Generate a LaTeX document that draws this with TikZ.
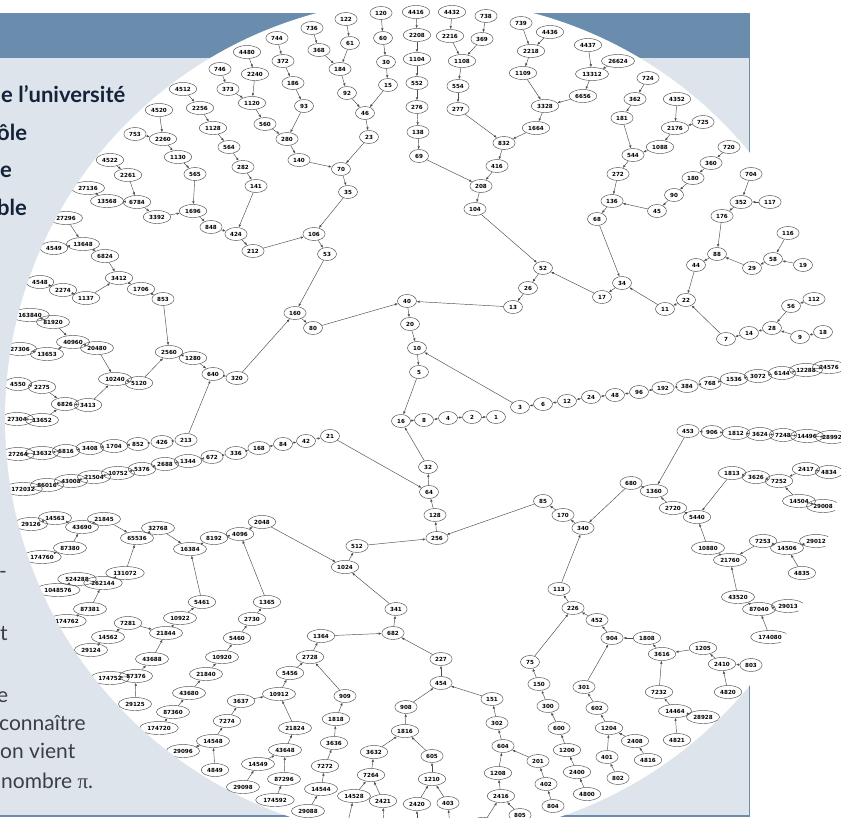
\documentclass[tikz,border=0pt]{standalone}
\usepackage{fontspec}
\setmainfont{Lato}
\newfontfamily\graphfont{DejaVu Sans}
\newfontfamily\pifont{Liberation Serif}
\usetikzlibrary{arrows.meta,shapes.geometric}
\definecolor{headblue}{HTML}{6A8DAD}
\definecolor{panelgrey}{HTML}{DEE4EC}
\definecolor{inkblue}{HTML}{14233A}
\definecolor{inkgrey}{HTML}{3A3F47}

\begin{document}
\begin{tikzpicture}[x=1pt, y=-1pt,
    v/.style={draw=black!70, ellipse, line width=0.45pt, inner xsep=2pt, inner ysep=0pt, minimum width=19pt, minimum height=13pt, font=\graphfont\bfseries\fontsize{5.6}{6}\selectfont},
    arrow/.style={-{Latex[length=3pt,width=2.4pt]}, black!70, line width=0.45pt},
    headtxt/.style={anchor=base west, inner sep=0pt, text=inkblue, font=\bfseries\fontsize{22}{26}\selectfont},
    bodytxt/.style={anchor=base west, inner sep=0pt, text=inkgrey, font=\fontsize{21}{25}\selectfont}
  ]
  \clip (0,0) rectangle (841,817);
  % slide behind the disc
  \fill[panelgrey] (0,13) rectangle (750,817);
  \fill[headblue] (0,13) rectangle (750,58);
  \draw[headblue, line width=1.2pt] (749.4,13) -- (749.4,816) -- (0,816);
  \node[headtxt] (l1) at (1,102) {e l’université};
  \node[headtxt] (l2) at (-3,140) {ôle};
  \node[headtxt] (l3) at (0,177) {e};
  \node[headtxt] (l4) at (-3,215) {ble};
  \node[bodytxt] (l5) at (-1,578) {-};
  \node[bodytxt] (l6) at (0,640) {t};
  \node[bodytxt] (l7) at (-3,702) {e};
  \node[bodytxt] (l8) at (-1,730) {connaître};
  \node[bodytxt] (l9) at (0,758) {on vient};
  \node[bodytxt] (l10) at (1,788) {nombre {\pifont π}.};
  % the disc with the tree
  \fill[white] (425,419) circle[radius=420pt];
  \begin{scope}
  \clip (425,419) circle[radius=420pt];
  % upper left
  \node[v] (n744) at (277,38) {744};
  \node[v] (n4480) at (247,52) {4480};
  \node[v] (n746) at (220,69) {746};
  \node[v] (n2240) at (255,74) {2240};
  \node[v] (n4512) at (183,89) {4512};
  \node[v] (n373) at (228,89) {373};
  \node[v] (n1120) at (252,103) {1120};
  \node[v] (n4520) at (159,110) {4520};
  \node[v] (n2256) at (200,108) {2256};
  \node[v] (n560) at (265,124) {560};
  \node[v] (n753) at (135,134) {753};
  \node[v] (n2260) at (163,139) {2260};
  \node[v] (n1128) at (213,128) {1128};
  \node[v] (n564) at (229,147) {564};
  \node[v] (n280) at (287,139) {280};
  \node[v] (n1130) at (178,157) {1130};
  \node[v] (n282) at (243,167) {282};
  \node[v] (n4522) at (110,160) {4522};
  \node[v] (n2261) at (128,175) {2261};
  \node[v] (n565) at (195,174) {565};
  \node[v] (n141) at (256,186) {141};
  \node[v] (n27136) at (88,188) {27136};
  \node[v] (n13568) at (107,201) {13568};
  \node[v] (n6784) at (137,202) {6784};
  \node[v] (n1696) at (193,211) {1696};
  \node[v] (n3392) at (157,217) {3392};
  \node[v] (n848) at (211,227) {848};
  \node[v] (n424) at (236,234) {424};
  \node[v] (n212) at (253,251) {212};
  \node[v] (n27296) at (66,218) {27296};
  \node[v] (n13648) at (83,244) {13648};
  \node[v] (n4549) at (54,248) {4549};
  \node[v] (n6824) at (105,256) {6824};
  \node[v] (n3412) at (119,278) {3412};
  \node[v] (n4548) at (40,282) {4548};
  \node[v] (n2274) at (63,290) {2274};
  \node[v] (n1706) at (141,289) {1706};
  \node[v] (n1137) at (86,298) {1137};
  \node[v] (n853) at (163,299) {853};
  % upper middle
  \node[v] (n736) at (312,28) {736};
  \node[v] (n122) at (346,19) {122};
  \node[v] (n120) at (381,13) {120};
  \node[v] (n4416) at (416,12) {4416};
  \node[v] (n4432) at (452,12) {4432};
  \node[v] (n738) at (486,16) {738};
  \node[v] (n739) at (521,23) {739};
  \node[v] (n4436) at (550,32) {4436};
  \node[v] (n368) at (319,50) {368};
  \node[v] (n61) at (350,43) {61};
  \node[v] (n60) at (383,38) {60};
  \node[v] (n2208) at (417,35) {2208};
  \node[v] (n2216) at (450,36) {2216};
  \node[v] (n369) at (482,39) {369};
  \node[v] (n2218) at (531,51) {2218};
  \node[v] (n372) at (283,61) {372};
  \node[v] (n184) at (340,69) {184};
  \node[v] (n30) at (386,62) {30};
  \node[v] (n1104) at (417,59) {1104};
  \node[v] (n1108) at (462,61) {1108};
  \node[v] (n1109) at (523,73) {1109};
  \node[v] (n186) at (293,83) {186};
  \node[v] (n92) at (347,93) {92};
  \node[v] (n15) at (388,85) {15};
  \node[v] (n552) at (417,83) {552};
  \node[v] (n554) at (458,86) {554};
  \node[v] (n93) at (304,106) {93};
  \node[v] (n46) at (365,113) {46};
  \node[v] (n276) at (417,107) {276};
  \node[v] (n277) at (458,109) {277};
  \node[v] (n3328) at (545,106) {3328};
  \node[v] (n23) at (369,137) {23};
  \node[v] (n138) at (418,132) {138};
  \node[v] (n1664) at (536,128) {1664};
  \node[v] (n832) at (504,143) {832};
  \node[v] (n140) at (299,160) {140};
  \node[v] (n70) at (341,169) {70};
  \node[v] (n69) at (419,156) {69};
  \node[v] (n416) at (497,166) {416};
  \node[v] (n35) at (348,192) {35};
  \node[v] (n208) at (481,186) {208};
  \node[v] (n104) at (475,209) {104};
  \node[v] (n106) at (314,234) {106};
  \node[v] (n53) at (327,254) {53};
  \node[v] (n52) at (543,268) {52};
  % upper right
  \node[v] (n4437) at (588,45) {4437};
  \node[v] (n26624) at (618,61) {26624};
  \node[v] (n13312) at (592,74) {13312};
  \node[v] (n724) at (648,78) {724};
  \node[v] (n6656) at (583,96) {6656};
  \node[v] (n362) at (635,99) {362};
  \node[v] (n4352) at (677,99) {4352};
  \node[v] (n181) at (622,118) {181};
  \node[v] (n725) at (703,122) {725};
  \node[v] (n2176) at (675,128) {2176};
  \node[v] (n1088) at (660,147) {1088};
  \node[v] (n720) at (729,147) {720};
  \node[v] (n544) at (633,155) {544};
  \node[v] (n360) at (711,163) {360};
  \node[v] (n272) at (618,174) {272};
  \node[v] (n180) at (693,178) {180};
  \node[v] (n704) at (751,174) {704};
  \node[v] (n136) at (612,201) {136};
  \node[v] (n90) at (674,195) {90};
  \node[v] (n352) at (741,202) {352};
  \node[v] (n117) at (770,202) {117};
  \node[v] (n45) at (657,211) {45};
  \node[v] (n68) at (597,219) {68};
  \node[v] (n176) at (722,216) {176};
  \node[v] (n116) at (788,233) {116};
  \node[v] (n88) at (717,254) {88};
  \node[v] (n44) at (696,265) {44};
  \node[v] (n58) at (773,259) {58};
  \node[v] (n29) at (752,268) {29};
  \node[v] (n19) at (803,265) {19};
  \node[v] (n34) at (622,283) {34};
  \node[v] (n17) at (602,297) {17};
  \node[v] (n22) at (686,300) {22};
  \node[v] (n11) at (665,309) {11};
  \node[v] (n56) at (791,306) {56};
  \node[v] (n112) at (814,299) {112};
  \node[v] (n28) at (772,328) {28};
  \node[v] (n14) at (749,333) {14};
  \node[v] (n7) at (726,339) {7};
  \node[v] (n9) at (800,337) {9};
  \node[v] (n18) at (823,332) {18};
  % middle
  \node[v] (n26) at (528,288) {26};
  \node[v] (n13) at (513,307) {13};
  \node[v] (n160) at (295,313) {160};
  \node[v] (n80) at (313,328) {80};
  \node[v] (n40) at (407,301) {40};
  \node[v] (n20) at (410,324) {20};
  \node[v] (n10) at (417,348) {10};
  \node[v] (n5) at (419,372) {5};
  \node[v] (n3) at (520,407) {3};
  \node[v] (n6) at (543,404) {6};
  \node[v] (n16) at (401,421) {16};
  \node[v] (n8) at (424,420) {8};
  \node[v] (n4) at (448,418) {4};
  \node[v] (n2) at (472,417) {2};
  \node[v] (n1) at (496,417) {1};
  \node[v] (n12) at (567,401) {12};
  \node[v] (n24) at (591,397) {24};
  \node[v] (n48) at (615,395) {48};
  \node[v] (n96) at (639,392) {96};
  \node[v] (n192) at (663,388) {192};
  \node[v] (n384) at (687,386) {384};
  \node[v] (n768) at (710,383) {768};
  \node[v] (n1536) at (734,379) {1536};
  \node[v] (n3072) at (758,376) {3072};
  \node[v] (n6144) at (782,373) {6144};
  \node[v] (n12288) at (806,370) {12288};
  \node[v] (n24576) at (829,367) {24576};
  \node[v] (n42) at (306,441) {42};
  \node[v] (n21) at (330,436) {21};
  \node[v] (n84) at (283,444) {84};
  \node[v] (n32) at (428,467) {32};
  \node[v] (n64) at (429,492) {64};
  \node[v] (n128) at (435,515) {128};
  \node[v] (n256) at (437,538) {256};
  \node[v] (n85) at (543,501) {85};
  \node[v] (n170) at (563,515) {170};
  \node[v] (n340) at (583,528) {340};
  \node[v] (n512) at (357,546) {512};
  \node[v] (n1024) at (345,567) {1024};
  % left middle
  \node[v] (n163840) at (30,315) {163840};
  \node[v] (n81920) at (53,322) {81920};
  \node[v] (n40960) at (73,342) {40960};
  \node[v] (n20480) at (97,348) {20480};
  \node[v] (n27306) at (20,349) {27306};
  \node[v] (n13653) at (47,354) {13653};
  \node[v] (n2560) at (169,352) {2560};
  \node[v] (n1280) at (193,358) {1280};
  \node[v] (n640) at (213,374) {640};
  \node[v] (n320) at (237,378) {320};
  \node[v] (n10240) at (115,379) {10240};
  \node[v] (n5120) at (139,383) {5120};
  \node[v] (n4550) at (18,384) {4550};
  \node[v] (n2275) at (42,387) {2275};
  \node[v] (n6826) at (65,404) {6826};
  \node[v] (n3413) at (88,405) {3413};
  \node[v] (n27304) at (17,419) {27304};
  \node[v] (n13652) at (42,420) {13652};
  \node[v] (n213) at (186,440) {213};
  \node[v] (n426) at (162,442) {426};
  \node[v] (n852) at (138,444) {852};
  \node[v] (n1704) at (114,446) {1704};
  \node[v] (n3408) at (90,448) {3408};
  \node[v] (n6816) at (66,451) {6816};
  \node[v] (n13632) at (42,453) {13632};
  \node[v] (n27264) at (18,454) {27264};
  \node[v] (n168) at (259,448) {168};
  \node[v] (n336) at (236,453) {336};
  \node[v] (n672) at (212,457) {672};
  \node[v] (n1344) at (188,461) {1344};
  \node[v] (n2688) at (165,464) {2688};
  \node[v] (n5376) at (142,469) {5376};
  \node[v] (n10752) at (118,473) {10752};
  \node[v] (n21504) at (94,477) {21504};
  \node[v] (n43008) at (71,481) {43008};
  \node[v] (n86016) at (47,485) {86016};
  \node[v] (n172032) at (23,489) {172032};
  \node[v] (n29126) at (31,524) {29126};
  \node[v] (n14563) at (55,518) {14563};
  \node[v] (n43690) at (82,527) {43690};
  \node[v] (n21845) at (104,519) {21845};
  \node[v] (n65536) at (137,538) {65536};
  \node[v] (n32768) at (158,528) {32768};
  \node[v] (n8192) at (214,538) {8192};
  \node[v] (n4096) at (240,534) {4096};
  \node[v] (n2048) at (262,522) {2048};
  \node[v] (n16384) at (190,549) {16384};
  \node[v] (n87380) at (70,548) {87380};
  \node[v] (n174760) at (42,557) {174760};
  % lower left
  \node[v] (n131072) at (125,573) {131072};
  \node[v] (n524288) at (77,579) {524288};
  \node[v] (n262144) at (103,583) {262144};
  \node[v] (n1048576) at (58,590) {1048576};
  \node[v] (n5461) at (202,602) {5461};
  \node[v] (n1365) at (267,602) {1365};
  \node[v] (n87381) at (90,609) {87381};
  \node[v] (n174762) at (67,621) {174762};
  \node[v] (n10922) at (180,618) {10922};
  \node[v] (n2730) at (252,619) {2730};
  \node[v] (n7281) at (128,623) {7281};
  \node[v] (n21844) at (166,633) {21844};
  \node[v] (n14562) at (108,637) {14562};
  \node[v] (n5460) at (237,638) {5460};
  \node[v] (n29124) at (91,650) {29124};
  \node[v] (n10920) at (222,657) {10920};
  \node[v] (n43688) at (152,659) {43688};
  \node[v] (n174752) at (110,678) {174752};
  \node[v] (n87376) at (136,676) {87376};
  \node[v] (n21840) at (206,674) {21840};
  \node[v] (n10912) at (279,694) {10912};
  \node[v] (n29125) at (135,704) {29125};
  \node[v] (n43680) at (189,693) {43680};
  \node[v] (n3637) at (241,701) {3637};
  \node[v] (n87360) at (173,712) {87360};
  \node[v] (n7274) at (227,721) {7274};
  \node[v] (n174720) at (159,728) {174720};
  \node[v] (n14548) at (213,741) {14548};
  \node[v] (n29096) at (183,751) {29096};
  \node[v] (n4849) at (215,770) {4849};
  \node[v] (n14549) at (258,764) {14549};
  \node[v] (n29098) at (243,787) {29098};
  \node[v] (n174592) at (275,800) {174592};
  \node[v] (n21824) at (295,728) {21824};
  \node[v] (n43648) at (285,750) {43648};
  \node[v] (n87296) at (284,779) {87296};
  \node[v] (n5456) at (290,673) {5456};
  % lower middle
  \node[v] (n341) at (396,609) {341};
  \node[v] (n1364) at (321,636) {1364};
  \node[v] (n682) at (393,633) {682};
  \node[v] (n2728) at (310,657) {2728};
  \node[v] (n227) at (441,659) {227};
  \node[v] (n454) at (441,683) {454};
  \node[v] (n909) at (345,696) {909};
  \node[v] (n151) at (492,699) {151};
  \node[v] (n908) at (406,707) {908};
  \node[v] (n1818) at (336,719) {1818};
  \node[v] (n302) at (497,723) {302};
  \node[v] (n1816) at (405,731) {1816};
  \node[v] (n3636) at (334,743) {3636};
  \node[v] (n3632) at (374,752) {3632};
  \node[v] (n605) at (432,756) {605};
  \node[v] (n604) at (503,746) {604};
  \node[v] (n201) at (538,761) {201};
  \node[v] (n7272) at (325,766) {7272};
  \node[v] (n7264) at (371,775) {7264};
  \node[v] (n1210) at (432,779) {1210};
  \node[v] (n1208) at (498,773) {1208};
  \node[v] (n402) at (546,784) {402};
  \node[v] (n14544) at (321,789) {14544};
  \node[v] (n14528) at (354,796) {14528};
  \node[v] (n2421) at (383,801) {2421};
  \node[v] (n2420) at (417,804) {2420};
  \node[v] (n403) at (448,803) {403};
  \node[v] (n2416) at (501,796) {2416};
  \node[v] (n804) at (553,806) {804};
  \node[v] (n805) at (520,815) {805};
  \node[v] (n29088) at (308,811) {29088};
  \node[v] (n29056) at (347,826) {29056};
  \node[v] (n4842) at (384,828) {4842};
  \node[v] (n4840) at (417,828) {4840};
  \node[v] (n806) at (450,828) {806};
  \node[v] (n4832) at (483,824) {4832};
  % lower right
  \node[v] (n113) at (559,589) {113};
  \node[v] (n75) at (530,662) {75};
  \node[v] (n150) at (539,684) {150};
  \node[v] (n300) at (548,706) {300};
  \node[v] (n600) at (559,728) {600};
  \node[v] (n1200) at (567,750) {1200};
  \node[v] (n2400) at (577,772) {2400};
  \node[v] (n4800) at (587,794) {4800};
  \node[v] (n226) at (573,608) {226};
  \node[v] (n452) at (597,620) {452};
  \node[v] (n904) at (612,638) {904};
  \node[v] (n1808) at (647,638) {1808};
  \node[v] (n3616) at (662,654) {3616};
  \node[v] (n1205) at (703,648) {1205};
  \node[v] (n2410) at (722,664) {2410};
  \node[v] (n803) at (751,665) {803};
  \node[v] (n301) at (584,687) {301};
  \node[v] (n7232) at (659,692) {7232};
  \node[v] (n4820) at (728,692) {4820};
  \node[v] (n602) at (597,708) {602};
  \node[v] (n14464) at (675,711) {14464};
  \node[v] (n28928) at (703,717) {28928};
  \node[v] (n1204) at (609,728) {1204};
  \node[v] (n2408) at (635,741) {2408};
  \node[v] (n4821) at (677,740) {4821};
  \node[v] (n401) at (607,757) {401};
  \node[v] (n4816) at (648,760) {4816};
  \node[v] (n802) at (618,778) {802};
  % right middle
  \node[v] (n453) at (688,431) {453};
  \node[v] (n906) at (712,432) {906};
  \node[v] (n1812) at (736,433) {1812};
  \node[v] (n3624) at (760,434) {3624};
  \node[v] (n7248) at (783,435) {7248};
  \node[v] (n14496) at (807,436) {14496};
  \node[v] (n28992) at (832,437) {28992};
  \node[v] (n1813) at (732,473) {1813};
  \node[v] (n3626) at (756,477) {3626};
  \node[v] (n7252) at (779,481) {7252};
  \node[v] (n2417) at (806,469) {2417};
  \node[v] (n4834) at (829,472) {4834};
  \node[v] (n14504) at (799,501) {14504};
  \node[v] (n29008) at (823,506) {29008};
  \node[v] (n680) at (631,483) {680};
  \node[v] (n1360) at (654,491) {1360};
  \node[v] (n2720) at (673,508) {2720};
  \node[v] (n5440) at (697,517) {5440};
  \node[v] (n10880) at (708,548) {10880};
  \node[v] (n21760) at (730,560) {21760};
  \node[v] (n7253) at (763,541) {7253};
  \node[v] (n14506) at (787,548) {14506};
  \node[v] (n29012) at (816,541) {29012};
  \node[v] (n4835) at (802,573) {4835};
  \node[v] (n43520) at (738,597) {43520};
  \node[v] (n87040) at (759,609) {87040};
  \node[v] (n29013) at (788,606) {29013};
  \node[v] (n174080) at (770,637) {174080};
  % connectors, each number to the next one
  \draw[arrow] (n744) -- (n372);
  \draw[arrow] (n372) -- (n186);
  \draw[arrow] (n186) -- (n93);
  \draw[arrow] (n93) -- (n280);
  \draw[arrow] (n280) -- (n140);
  \draw[arrow] (n140) -- (n70);
  \draw[arrow] (n70) -- (n35);
  \draw[arrow] (n35) -- (n106);
  \draw[arrow] (n106) -- (n53);
  \draw[arrow] (n53) -- (n160);
  \draw[arrow] (n160) -- (n80);
  \draw[arrow] (n80) -- (n40);
  \draw[arrow] (n4480) -- (n2240);
  \draw[arrow] (n2240) -- (n1120);
  \draw[arrow] (n1120) -- (n560);
  \draw[arrow] (n560) -- (n280);
  \draw[arrow] (n746) -- (n373);
  \draw[arrow] (n373) -- (n1120);
  \draw[arrow] (n4512) -- (n2256);
  \draw[arrow] (n2256) -- (n1128);
  \draw[arrow] (n1128) -- (n564);
  \draw[arrow] (n564) -- (n282);
  \draw[arrow] (n282) -- (n141);
  \draw[arrow] (n141) -- (n424);
  \draw[arrow] (n424) -- (n212);
  \draw[arrow] (n212) -- (n106);
  \draw[arrow] (n4520) -- (n2260);
  \draw[arrow] (n753) -- (n2260);
  \draw[arrow] (n2260) -- (n1130);
  \draw[arrow] (n1130) -- (n565);
  \draw[arrow] (n565) -- (n1696);
  \draw[arrow] (n1696) -- (n848);
  \draw[arrow] (n848) -- (n424);
  \draw[arrow] (n4522) -- (n2261);
  \draw[arrow] (n2261) -- (n6784);
  \draw[arrow] (n27136) -- (n13568);
  \draw[arrow] (n13568) -- (n6784);
  \draw[arrow] (n6784) -- (n3392);
  \draw[arrow] (n3392) -- (n1696);
  \draw[arrow] (n27296) -- (n13648);
  \draw[arrow] (n4549) -- (n13648);
  \draw[arrow] (n13648) -- (n6824);
  \draw[arrow] (n6824) -- (n3412);
  \draw[arrow] (n4548) -- (n2274);
  \draw[arrow] (n2274) -- (n1137);
  \draw[arrow] (n1137) -- (n3412);
  \draw[arrow] (n3412) -- (n1706);
  \draw[arrow] (n1706) -- (n853);
  \draw[arrow] (n853) -- (n2560);
  \draw[arrow] (n163840) -- (n81920);
  \draw[arrow] (n81920) -- (n40960);
  \draw[arrow] (n27306) -- (n13653);
  \draw[arrow] (n13653) -- (n40960);
  \draw[arrow] (n40960) -- (n20480);
  \draw[arrow] (n20480) -- (n10240);
  \draw[arrow] (n4550) -- (n2275);
  \draw[arrow] (n2275) -- (n6826);
  \draw[arrow] (n27304) -- (n13652);
  \draw[arrow] (n13652) -- (n6826);
  \draw[arrow] (n6826) -- (n3413);
  \draw[arrow] (n3413) -- (n10240);
  \draw[arrow] (n10240) -- (n5120);
  \draw[arrow] (n5120) -- (n2560);
  \draw[arrow] (n2560) -- (n1280);
  \draw[arrow] (n1280) -- (n640);
  \draw[arrow] (n640) -- (n320);
  \draw[arrow] (n320) -- (n160);
  \draw[arrow] (n27264) -- (n13632);
  \draw[arrow] (n13632) -- (n6816);
  \draw[arrow] (n6816) -- (n3408);
  \draw[arrow] (n3408) -- (n1704);
  \draw[arrow] (n1704) -- (n852);
  \draw[arrow] (n852) -- (n426);
  \draw[arrow] (n426) -- (n213);
  \draw[arrow] (n213) -- (n640);
  \draw[arrow] (n172032) -- (n86016);
  \draw[arrow] (n86016) -- (n43008);
  \draw[arrow] (n43008) -- (n21504);
  \draw[arrow] (n21504) -- (n10752);
  \draw[arrow] (n10752) -- (n5376);
  \draw[arrow] (n5376) -- (n2688);
  \draw[arrow] (n2688) -- (n1344);
  \draw[arrow] (n1344) -- (n672);
  \draw[arrow] (n672) -- (n336);
  \draw[arrow] (n336) -- (n168);
  \draw[arrow] (n168) -- (n84);
  \draw[arrow] (n84) -- (n42);
  \draw[arrow] (n42) -- (n21);
  \draw[arrow] (n21) -- (n64);
  \draw[arrow] (n29126) -- (n14563);
  \draw[arrow] (n14563) -- (n43690);
  \draw[arrow] (n174760) -- (n87380);
  \draw[arrow] (n87380) -- (n43690);
  \draw[arrow] (n43690) -- (n21845);
  \draw[arrow] (n21845) -- (n65536);
  \draw[arrow] (n1048576) -- (n524288);
  \draw[arrow] (n524288) -- (n262144);
  \draw[arrow] (n174762) -- (n87381);
  \draw[arrow] (n87381) -- (n262144);
  \draw[arrow] (n262144) -- (n131072);
  \draw[arrow] (n131072) -- (n65536);
  \draw[arrow] (n65536) -- (n32768);
  \draw[arrow] (n32768) -- (n16384);
  \draw[arrow] (n16384) -- (n8192);
  \draw[arrow] (n8192) -- (n4096);
  \draw[arrow] (n4096) -- (n2048);
  \draw[arrow] (n2048) -- (n1024);
  \draw[arrow] (n1024) -- (n512);
  \draw[arrow] (n512) -- (n256);
  \draw[arrow] (n29124) -- (n14562);
  \draw[arrow] (n14562) -- (n7281);
  \draw[arrow] (n7281) -- (n21844);
  \draw[arrow] (n174752) -- (n87376);
  \draw[arrow] (n29125) -- (n87376);
  \draw[arrow] (n87376) -- (n43688);
  \draw[arrow] (n43688) -- (n21844);
  \draw[arrow] (n21844) -- (n10922);
  \draw[arrow] (n10922) -- (n5461);
  \draw[arrow] (n5461) -- (n16384);
  \draw[arrow] (n174720) -- (n87360);
  \draw[arrow] (n87360) -- (n43680);
  \draw[arrow] (n43680) -- (n21840);
  \draw[arrow] (n21840) -- (n10920);
  \draw[arrow] (n10920) -- (n5460);
  \draw[arrow] (n5460) -- (n2730);
  \draw[arrow] (n2730) -- (n1365);
  \draw[arrow] (n1365) -- (n4096);
  \draw[arrow] (n29096) -- (n14548);
  \draw[arrow] (n4849) -- (n14548);
  \draw[arrow] (n14548) -- (n7274);
  \draw[arrow] (n7274) -- (n3637);
  \draw[arrow] (n3637) -- (n10912);
  \draw[arrow] (n29098) -- (n14549);
  \draw[arrow] (n14549) -- (n43648);
  \draw[arrow] (n174592) -- (n87296);
  \draw[arrow] (n87296) -- (n43648);
  \draw[arrow] (n43648) -- (n21824);
  \draw[arrow] (n21824) -- (n10912);
  \draw[arrow] (n10912) -- (n5456);
  \draw[arrow] (n5456) -- (n2728);
  \draw[arrow] (n29088) -- (n14544);
  \draw[arrow] (n14544) -- (n7272);
  \draw[arrow] (n7272) -- (n3636);
  \draw[arrow] (n3636) -- (n1818);
  \draw[arrow] (n1818) -- (n909);
  \draw[arrow] (n909) -- (n2728);
  \draw[arrow] (n2728) -- (n1364);
  \draw[arrow] (n1364) -- (n682);
  \draw[arrow] (n682) -- (n341);
  \draw[arrow] (n341) -- (n1024);
  \draw[arrow] (n29056) -- (n14528);
  \draw[arrow] (n14528) -- (n7264);
  \draw[arrow] (n4842) -- (n2421);
  \draw[arrow] (n2421) -- (n7264);
  \draw[arrow] (n7264) -- (n3632);
  \draw[arrow] (n3632) -- (n1816);
  \draw[arrow] (n4840) -- (n2420);
  \draw[arrow] (n2420) -- (n1210);
  \draw[arrow] (n806) -- (n403);
  \draw[arrow] (n403) -- (n1210);
  \draw[arrow] (n1210) -- (n605);
  \draw[arrow] (n605) -- (n1816);
  \draw[arrow] (n1816) -- (n908);
  \draw[arrow] (n908) -- (n454);
  \draw[arrow] (n454) -- (n227);
  \draw[arrow] (n227) -- (n682);
  \draw[arrow] (n4832) -- (n2416);
  \draw[arrow] (n805) -- (n2416);
  \draw[arrow] (n2416) -- (n1208);
  \draw[arrow] (n1208) -- (n604);
  \draw[arrow] (n804) -- (n402);
  \draw[arrow] (n402) -- (n201);
  \draw[arrow] (n201) -- (n604);
  \draw[arrow] (n604) -- (n302);
  \draw[arrow] (n302) -- (n151);
  \draw[arrow] (n151) -- (n454);
  \draw[arrow] (n4800) -- (n2400);
  \draw[arrow] (n2400) -- (n1200);
  \draw[arrow] (n1200) -- (n600);
  \draw[arrow] (n600) -- (n300);
  \draw[arrow] (n300) -- (n150);
  \draw[arrow] (n150) -- (n75);
  \draw[arrow] (n75) -- (n226);
  \draw[arrow] (n802) -- (n401);
  \draw[arrow] (n401) -- (n1204);
  \draw[arrow] (n4816) -- (n2408);
  \draw[arrow] (n2408) -- (n1204);
  \draw[arrow] (n1204) -- (n602);
  \draw[arrow] (n602) -- (n301);
  \draw[arrow] (n301) -- (n904);
  \draw[arrow] (n4821) -- (n14464);
  \draw[arrow] (n28928) -- (n14464);
  \draw[arrow] (n14464) -- (n7232);
  \draw[arrow] (n7232) -- (n3616);
  \draw[arrow] (n4820) -- (n2410);
  \draw[arrow] (n803) -- (n2410);
  \draw[arrow] (n2410) -- (n1205);
  \draw[arrow] (n1205) -- (n3616);
  \draw[arrow] (n3616) -- (n1808);
  \draw[arrow] (n1808) -- (n904);
  \draw[arrow] (n904) -- (n452);
  \draw[arrow] (n452) -- (n226);
  \draw[arrow] (n226) -- (n113);
  \draw[arrow] (n113) -- (n340);
  \draw[arrow] (n174080) -- (n87040);
  \draw[arrow] (n29013) -- (n87040);
  \draw[arrow] (n87040) -- (n43520);
  \draw[arrow] (n43520) -- (n21760);
  \draw[arrow] (n29012) -- (n14506);
  \draw[arrow] (n4835) -- (n14506);
  \draw[arrow] (n14506) -- (n7253);
  \draw[arrow] (n7253) -- (n21760);
  \draw[arrow] (n21760) -- (n10880);
  \draw[arrow] (n10880) -- (n5440);
  \draw[arrow] (n29008) -- (n14504);
  \draw[arrow] (n14504) -- (n7252);
  \draw[arrow] (n4834) -- (n2417);
  \draw[arrow] (n2417) -- (n7252);
  \draw[arrow] (n7252) -- (n3626);
  \draw[arrow] (n3626) -- (n1813);
  \draw[arrow] (n1813) -- (n5440);
  \draw[arrow] (n5440) -- (n2720);
  \draw[arrow] (n2720) -- (n1360);
  \draw[arrow] (n28992) -- (n14496);
  \draw[arrow] (n14496) -- (n7248);
  \draw[arrow] (n7248) -- (n3624);
  \draw[arrow] (n3624) -- (n1812);
  \draw[arrow] (n1812) -- (n906);
  \draw[arrow] (n906) -- (n453);
  \draw[arrow] (n453) -- (n1360);
  \draw[arrow] (n1360) -- (n680);
  \draw[arrow] (n680) -- (n340);
  \draw[arrow] (n340) -- (n170);
  \draw[arrow] (n170) -- (n85);
  \draw[arrow] (n85) -- (n256);
  \draw[arrow] (n256) -- (n128);
  \draw[arrow] (n128) -- (n64);
  \draw[arrow] (n64) -- (n32);
  \draw[arrow] (n32) -- (n16);
  \draw[arrow] (n24576) -- (n12288);
  \draw[arrow] (n12288) -- (n6144);
  \draw[arrow] (n6144) -- (n3072);
  \draw[arrow] (n3072) -- (n1536);
  \draw[arrow] (n1536) -- (n768);
  \draw[arrow] (n768) -- (n384);
  \draw[arrow] (n384) -- (n192);
  \draw[arrow] (n192) -- (n96);
  \draw[arrow] (n96) -- (n48);
  \draw[arrow] (n48) -- (n24);
  \draw[arrow] (n24) -- (n12);
  \draw[arrow] (n12) -- (n6);
  \draw[arrow] (n6) -- (n3);
  \draw[arrow] (n3) -- (n10);
  \draw[arrow] (n16) -- (n8);
  \draw[arrow] (n8) -- (n4);
  \draw[arrow] (n4) -- (n2);
  \draw[arrow] (n2) -- (n1);
  \draw[arrow] (n5) -- (n16);
  \draw[arrow] (n10) -- (n5);
  \draw[arrow] (n20) -- (n10);
  \draw[arrow] (n40) -- (n20);
  \draw[arrow] (n13) -- (n40);
  \draw[arrow] (n26) -- (n13);
  \draw[arrow] (n52) -- (n26);
  \draw[arrow] (n17) -- (n52);
  \draw[arrow] (n34) -- (n17);
  \draw[arrow] (n68) -- (n34);
  \draw[arrow] (n11) -- (n34);
  \draw[arrow] (n136) -- (n68);
  \draw[arrow] (n22) -- (n11);
  \draw[arrow] (n272) -- (n136);
  \draw[arrow] (n45) -- (n136);
  \draw[arrow] (n90) -- (n45);
  \draw[arrow] (n180) -- (n90);
  \draw[arrow] (n360) -- (n180);
  \draw[arrow] (n720) -- (n360);
  \draw[arrow] (n7) -- (n22);
  \draw[arrow] (n44) -- (n22);
  \draw[arrow] (n14) -- (n7);
  \draw[arrow] (n28) -- (n14);
  \draw[arrow] (n56) -- (n28);
  \draw[arrow] (n112) -- (n56);
  \draw[arrow] (n9) -- (n28);
  \draw[arrow] (n18) -- (n9);
  \draw[arrow] (n88) -- (n44);
  \draw[arrow] (n176) -- (n88);
  \draw[arrow] (n29) -- (n88);
  \draw[arrow] (n58) -- (n29);
  \draw[arrow] (n116) -- (n58);
  \draw[arrow] (n19) -- (n58);
  \draw[arrow] (n352) -- (n176);
  \draw[arrow] (n704) -- (n352);
  \draw[arrow] (n117) -- (n352);
  \draw[arrow] (n544) -- (n272);
  \draw[arrow] (n181) -- (n544);
  \draw[arrow] (n362) -- (n181);
  \draw[arrow] (n724) -- (n362);
  \draw[arrow] (n1088) -- (n544);
  \draw[arrow] (n2176) -- (n1088);
  \draw[arrow] (n4352) -- (n2176);
  \draw[arrow] (n725) -- (n2176);
  \draw[arrow] (n104) -- (n52);
  \draw[arrow] (n208) -- (n104);
  \draw[arrow] (n69) -- (n208);
  \draw[arrow] (n138) -- (n69);
  \draw[arrow] (n276) -- (n138);
  \draw[arrow] (n552) -- (n276);
  \draw[arrow] (n1104) -- (n552);
  \draw[arrow] (n2208) -- (n1104);
  \draw[arrow] (n4416) -- (n2208);
  \draw[arrow] (n416) -- (n208);
  \draw[arrow] (n832) -- (n416);
  \draw[arrow] (n277) -- (n832);
  \draw[arrow] (n554) -- (n277);
  \draw[arrow] (n1108) -- (n554);
  \draw[arrow] (n2216) -- (n1108);
  \draw[arrow] (n4432) -- (n2216);
  \draw[arrow] (n369) -- (n1108);
  \draw[arrow] (n738) -- (n369);
  \draw[arrow] (n1664) -- (n832);
  \draw[arrow] (n3328) -- (n1664);
  \draw[arrow] (n1109) -- (n3328);
  \draw[arrow] (n2218) -- (n1109);
  \draw[arrow] (n739) -- (n2218);
  \draw[arrow] (n4436) -- (n2218);
  \draw[arrow] (n6656) -- (n3328);
  \draw[arrow] (n13312) -- (n6656);
  \draw[arrow] (n4437) -- (n13312);
  \draw[arrow] (n26624) -- (n13312);
  \draw[arrow] (n23) -- (n70);
  \draw[arrow] (n46) -- (n23);
  \draw[arrow] (n92) -- (n46);
  \draw[arrow] (n15) -- (n46);
  \draw[arrow] (n184) -- (n92);
  \draw[arrow] (n30) -- (n15);
  \draw[arrow] (n368) -- (n184);
  \draw[arrow] (n61) -- (n184);
  \draw[arrow] (n60) -- (n30);
  \draw[arrow] (n736) -- (n368);
  \draw[arrow] (n122) -- (n61);
  \draw[arrow] (n120) -- (n60);
  \end{scope}
\end{tikzpicture}
\end{document}
